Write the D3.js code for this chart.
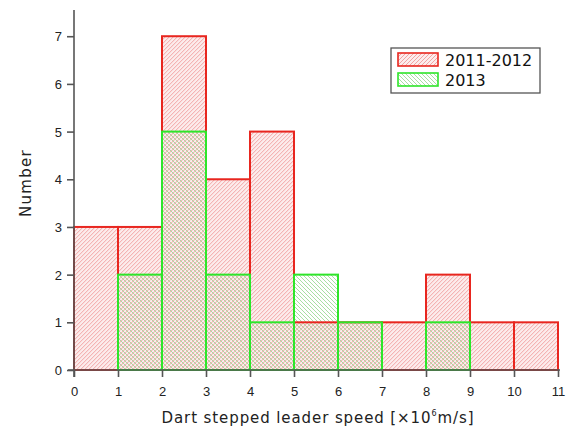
<!DOCTYPE html>
<html>
<head>
<meta charset="utf-8">
<script src="https://cdn.jsdelivr.net/npm/d3@7/dist/d3.min.js"></script>
<style>
  html, body { margin: 0; padding: 0; background: #fff; }
  svg { display: block; }
</style>
</head>
<body>
<svg id="chart" width="569" height="429"></svg>
<script>
// Histogram bins (lower edges, width 1, in units of 10^6 m/s)
const binStarts = [0, 1, 2, 3, 4, 5, 6, 7, 8, 9, 10];
const counts2011_2012 = [3, 3, 7, 4, 5, 1, 1, 1, 2, 1, 1];
const counts2013 = [0, 2, 5, 2, 1, 2, 1, 0, 1, 0, 0];
const xTicks = [0, 1, 2, 3, 4, 5, 6, 7, 8, 9, 10, 11];
const yTicks = [0, 1, 2, 3, 4, 5, 6, 7];
const seriesNames = ["2011-2012", "2013"];

const svg = d3.select("#chart");
const x = d3.scaleLinear().domain([0, 11]).range([74, 558]);
const y = d3.scaleLinear().domain([0, 7.55]).range([370, 10]);

const RED = "#e8261f", GREEN = "#2ee52a";
const RED_HATCH = "#f09c9c", GREEN_HATCH = "#9edb98";
const RED_TINT = "#fcecec";
const SPACING = 4;

const redData = binStarts.map((b, i) => ({ x0: b, x1: b + 1, v: counts2011_2012[i] })).filter(d => d.v > 0);
const greenData = binStarts.map((b, i) => ({ x0: b, x1: b + 1, v: counts2013[i] })).filter(d => d.v > 0);

const defs = svg.append("defs");

// Diagonal hatching clipped to a set of rectangles.
// dir = 1 draws "/" strokes, dir = -1 draws "\" strokes.
function hatchArea(id, boxes, color, dir, tint) {
  const clip = defs.append("clipPath").attr("id", id);
  clip.selectAll("rect").data(boxes).join("rect")
    .attr("x", b => b.x).attr("y", b => b.y).attr("width", b => b.w).attr("height", b => b.h);
  const x0 = d3.min(boxes, b => b.x), x1 = d3.max(boxes, b => b.x + b.w);
  const y0 = d3.min(boxes, b => b.y), y1 = d3.max(boxes, b => b.y + b.h);
  const H = y1 - y0;
  const g = svg.append("g").attr("clip-path", `url(#${id})`);
  if (tint) {
    g.append("rect").attr("x", x0).attr("y", y0).attr("width", x1 - x0).attr("height", H)
      .attr("fill", tint);
  }
  const offsets = d3.range(x0 - H - SPACING, x1 + H + SPACING, SPACING);
  g.selectAll("line").data(offsets).join("line")
    .attr("x1", c => c)
    .attr("y1", dir > 0 ? y1 : y0)
    .attr("x2", c => c + H)
    .attr("y2", dir > 0 ? y0 : y1)
    .attr("stroke", color).attr("stroke-width", 0.9);
}
const toBox = d => ({ x: x(d.x0), y: y(d.v), w: x(d.x1) - x(d.x0), h: y(0) - y(d.v) });

hatchArea("clipRed", redData.map(toBox), RED_HATCH, 1, RED_TINT);
hatchArea("clipGreen", greenData.map(toBox), GREEN_HATCH, -1, null);

function outlines(data, stroke) {
  svg.append("g").selectAll("rect").data(data).join("rect")
    .attr("x", d => x(d.x0)).attr("width", d => x(d.x1) - x(d.x0))
    .attr("y", d => y(d.v)).attr("height", d => y(0) - y(d.v))
    .attr("fill", "none").attr("stroke", stroke).attr("stroke-width", 2);
}
outlines(redData, RED);
outlines(greenData, GREEN);

// Axes
const axisColor = "#555";
const tickFont = "'Liberation Sans', Arial, sans-serif";
const xAxis = svg.append("g").attr("transform", `translate(0,${y(0)})`)
  .call(d3.axisBottom(x).tickValues(xTicks).tickSize(7).tickSizeOuter(0).tickFormat(d3.format("d")));
xAxis.select(".domain").attr("d", `M${x(0) - 6},0H${x(11) + 2}`);
const yAxis = svg.append("g").attr("transform", `translate(${x(0)},0)`)
  .call(d3.axisLeft(y).tickValues(yTicks).tickSize(7).tickSizeOuter(0).tickFormat(d3.format("d")));
yAxis.select(".domain").attr("d", `M0,${y(0) + 7}V${y.range()[1]}`);
[xAxis, yAxis].forEach(a => {
  a.selectAll(".domain, .tick line").attr("stroke", axisColor).attr("stroke-width", 1.6);
  a.selectAll("text").attr("fill", "#222").style("font-family", tickFont).style("font-size", "13px");
});
xAxis.selectAll("text").attr("dy", "1.2em");
yAxis.selectAll("text").attr("x", -12).attr("dy", "0.35em");

// Axis titles
const titleFont = "'DejaVu Sans', 'Noto Sans', sans-serif";
const xt = svg.append("text").attr("x", 318).attr("y", 423).attr("text-anchor", "middle")
  .style("font-family", titleFont).style("font-size", "15px").style("letter-spacing", "0.9px")
  .attr("fill", "#222");
xt.append("tspan").text("Dart stepped leader speed [×10");
xt.append("tspan").text("6").style("font-size", "8px").attr("dy", -7);
xt.append("tspan").text("m/s]").attr("dy", 7);

svg.append("text").attr("transform", "translate(31,183) rotate(-90)")
  .attr("text-anchor", "middle").style("font-family", titleFont).style("font-size", "15px")
  .style("letter-spacing", "1.3px").attr("fill", "#222").text("Number");

// Legend
const lg = svg.append("g");
lg.append("rect").attr("x", 391).attr("y", 48).attr("width", 149).attr("height", 45)
  .attr("fill", "#fff").attr("stroke", "#555").attr("stroke-width", 1.3);
const swatches = [
  { name: seriesNames[0], hatch: RED_HATCH, stroke: RED, dir: 1, tint: RED_TINT },
  { name: seriesNames[1], hatch: GREEN_HATCH, stroke: GREEN, dir: -1, tint: null }
];
swatches.forEach((s, i) => {
  const yy = 53 + i * 20;
  const box = { x: 398, y: yy, w: 40, h: 13 };
  hatchArea(`clipLegend${i}`, [box], s.hatch, s.dir, s.tint);
  svg.append("rect").attr("x", box.x).attr("y", box.y).attr("width", box.w).attr("height", box.h)
    .attr("fill", "none").attr("stroke", s.stroke).attr("stroke-width", 1.6);
  svg.append("text").attr("x", 445).attr("y", yy + 7).attr("dy", "0.36em")
    .style("font-family", titleFont).style("font-size", "16px")
    .attr("fill", "#111").text(s.name);
});
</script>
</body>
</html>
